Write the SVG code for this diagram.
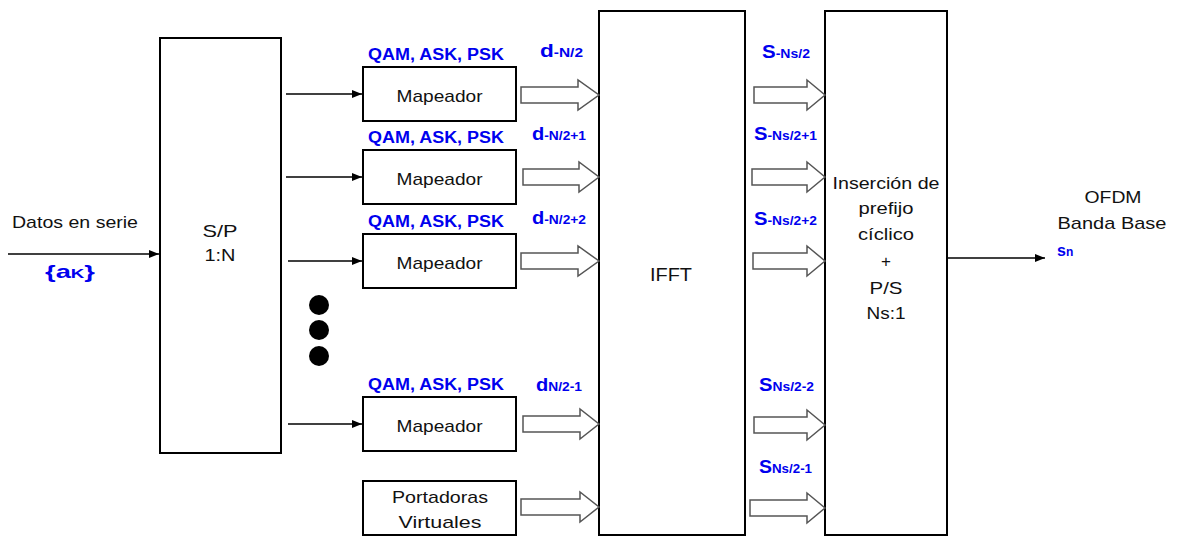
<svg xmlns="http://www.w3.org/2000/svg" width="1178" height="537" viewBox="0 0 1178 537">
<defs>
<marker id="ah" markerWidth="10" markerHeight="8" refX="10" refY="4" orient="auto" markerUnits="userSpaceOnUse">
<path d="M0,0 L10,4 L0,8 Z" fill="#000"/>
</marker>
<style>
.box{fill:#fff;stroke:#000;stroke-width:2}
.t{font-family:"Liberation Sans",Arial,sans-serif;font-size:17px;fill:#111;text-anchor:middle}
.b{font-family:"Liberation Sans",Arial,sans-serif;font-weight:bold;fill:#0000ee}
.q{font-size:16px;text-anchor:middle}
.big{font-size:19px}
.sub{font-size:13px}
.ln{stroke:#000;stroke-width:1.5;fill:none}
.ha{fill:#fff;stroke:#555;stroke-width:1.5}
</style>
</defs>
<rect width="1178" height="537" fill="#fff"/>

<g id="input-label">
<text class="t" x="75" y="228" textLength="126" lengthAdjust="spacingAndGlyphs">Datos en serie</text>
<text class="b" x="45" y="278" textLength="50" lengthAdjust="spacingAndGlyphs"><tspan class="big">{a</tspan><tspan class="sub">K</tspan><tspan class="big">}</tspan></text>
</g>

<g id="sp">
<rect class="box" x="160" y="38" width="121" height="415"/>
<text class="t" x="220" y="237" textLength="35" lengthAdjust="spacingAndGlyphs">S/P</text>
<text class="t" x="220" y="261" textLength="31" lengthAdjust="spacingAndGlyphs">1:N</text>
</g>

<g id="map1">
<rect class="box" x="363" y="67" width="153" height="54"/>
<text class="t" x="439.5" y="102" textLength="86" lengthAdjust="spacingAndGlyphs">Mapeador</text>
<text class="b q" x="436" y="60" textLength="136" lengthAdjust="spacingAndGlyphs">QAM, ASK, PSK</text>
</g>
<g id="map2">
<rect class="box" x="363" y="150" width="153" height="54"/>
<text class="t" x="439.5" y="185" textLength="86" lengthAdjust="spacingAndGlyphs">Mapeador</text>
<text class="b q" x="436" y="143" textLength="136" lengthAdjust="spacingAndGlyphs">QAM, ASK, PSK</text>
</g>
<g id="map3">
<rect class="box" x="363" y="234" width="153" height="54"/>
<text class="t" x="439.5" y="269" textLength="86" lengthAdjust="spacingAndGlyphs">Mapeador</text>
<text class="b q" x="436" y="227" textLength="136" lengthAdjust="spacingAndGlyphs">QAM, ASK, PSK</text>
</g>
<g id="dots">
<circle cx="319" cy="305" r="10" fill="#000"/>
<circle cx="319" cy="330" r="10" fill="#000"/>
<circle cx="319" cy="356" r="10" fill="#000"/>
</g>
<g id="map4">
<rect class="box" x="363" y="397" width="153" height="54"/>
<text class="t" x="439.5" y="432" textLength="86" lengthAdjust="spacingAndGlyphs">Mapeador</text>
<text class="b q" x="436" y="390" textLength="136" lengthAdjust="spacingAndGlyphs">QAM, ASK, PSK</text>
</g>
<g id="virtual">
<rect class="box" x="363" y="481" width="153" height="54"/>
<text class="t" x="440" y="503" textLength="96" lengthAdjust="spacingAndGlyphs">Portadoras</text>
<text class="t" x="440" y="528" textLength="83" lengthAdjust="spacingAndGlyphs">Virtuales</text>
</g>

<g id="ifft">
<rect class="box" x="599" y="11" width="146" height="524"/>
<text class="t" x="671" y="281" style="font-size:18px" textLength="42" lengthAdjust="spacingAndGlyphs">IFFT</text>
</g>

<g id="cp">
<rect class="box" x="825" y="11" width="122" height="524"/>
<text class="t" x="886" y="189" textLength="107" lengthAdjust="spacingAndGlyphs">Inserción de</text>
<text class="t" x="886" y="214" textLength="55" lengthAdjust="spacingAndGlyphs">prefijo</text>
<text class="t" x="886" y="240" textLength="56" lengthAdjust="spacingAndGlyphs">cíclico</text>
<text class="t" x="886" y="267">+</text>
<text class="t" x="886" y="294" textLength="33" lengthAdjust="spacingAndGlyphs">P/S</text>
<text class="t" x="886" y="319" textLength="39" lengthAdjust="spacingAndGlyphs">Ns:1</text>
</g>

<g id="output-label">
<text class="t" x="1113" y="203" textLength="57" lengthAdjust="spacingAndGlyphs">OFDM</text>
<text class="t" x="1112" y="229" textLength="109" lengthAdjust="spacingAndGlyphs">Banda Base</text>
<text class="b" x="1057" y="256"><tspan style="font-size:16px">s</tspan><tspan style="font-size:12px">n</tspan></text>
</g>

<g id="labels">
<text class="b" x="540" y="57" textLength="43" lengthAdjust="spacingAndGlyphs"><tspan class="big">d</tspan><tspan class="sub">-N/2</tspan></text>
<text class="b" x="532" y="140" textLength="54" lengthAdjust="spacingAndGlyphs"><tspan class="big">d</tspan><tspan class="sub">-N/2+1</tspan></text>
<text class="b" x="532" y="224" textLength="54" lengthAdjust="spacingAndGlyphs"><tspan class="big">d</tspan><tspan class="sub">-N/2+2</tspan></text>
<text class="b" x="536" y="391" textLength="46" lengthAdjust="spacingAndGlyphs"><tspan class="big">d</tspan><tspan class="sub">N/2-1</tspan></text>
<text class="b" x="762" y="58" textLength="48" lengthAdjust="spacingAndGlyphs"><tspan style="font-size:19px">S</tspan><tspan class="sub">-Ns/2</tspan></text>
<text class="b" x="754" y="140" textLength="63" lengthAdjust="spacingAndGlyphs"><tspan style="font-size:19px">S</tspan><tspan class="sub">-Ns/2+1</tspan></text>
<text class="b" x="754" y="225" textLength="63" lengthAdjust="spacingAndGlyphs"><tspan style="font-size:19px">S</tspan><tspan class="sub">-Ns/2+2</tspan></text>
<text class="b" x="759" y="391" textLength="55" lengthAdjust="spacingAndGlyphs"><tspan style="font-size:19px">S</tspan><tspan class="sub">Ns/2-2</tspan></text>
<text class="b" x="759" y="473" textLength="53" lengthAdjust="spacingAndGlyphs"><tspan style="font-size:19px">S</tspan><tspan class="sub">Ns/2-1</tspan></text>
</g>

<g id="connectors">
<line class="ln" x1="8" y1="254" x2="159" y2="254" marker-end="url(#ah)"/>
<line class="ln" x1="286" y1="94" x2="362" y2="94" marker-end="url(#ah)"/>
<line class="ln" x1="286" y1="177" x2="362" y2="177" marker-end="url(#ah)"/>
<line class="ln" x1="288" y1="261" x2="362" y2="261" marker-end="url(#ah)"/>
<line class="ln" x1="288" y1="424" x2="362" y2="424" marker-end="url(#ah)"/>
<line class="ln" x1="947" y1="258" x2="1045" y2="258" marker-end="url(#ah)"/>
<path class="ha" d="M521,87 L578,87 L578,80 L599,95 L578,110 L578,103 L521,103 Z"/>
<path class="ha" d="M523,169 L579,169 L579,162 L599,177 L579,192 L579,185 L523,185 Z"/>
<path class="ha" d="M521,253 L578,253 L578,246 L599,261 L578,276 L578,269 L521,269 Z"/>
<path class="ha" d="M523,416 L580,416 L580,409 L599,424 L580,439 L580,432 L523,432 Z"/>
<path class="ha" d="M521,499 L580,499 L580,492 L599,507 L580,522 L580,515 L521,515 Z"/>
<path class="ha" d="M754,87 L807,87 L807,80 L825,95 L807,110 L807,103 L754,103 Z"/>
<path class="ha" d="M752,169 L807,169 L807,162 L825,177 L807,192 L807,185 L752,185 Z"/>
<path class="ha" d="M753,253 L807,253 L807,246 L825,261 L807,276 L807,269 L753,269 Z"/>
<path class="ha" d="M754,417 L807,417 L807,410 L825,425 L807,440 L807,433 L754,433 Z"/>
<path class="ha" d="M750,500 L807,500 L807,493 L825,508 L807,523 L807,516 L750,516 Z"/>
</g>
</svg>
